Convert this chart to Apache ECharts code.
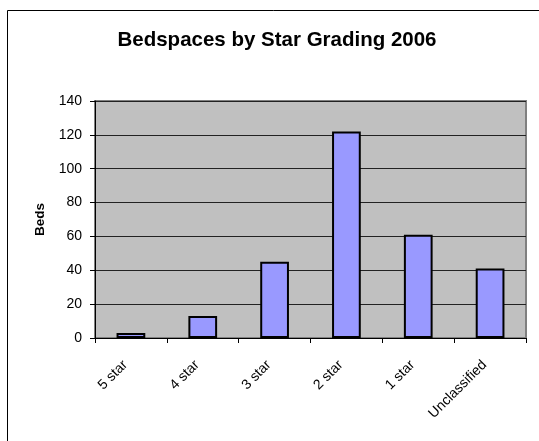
<!DOCTYPE html>
<html>
<head>
<meta charset="utf-8">
<script src="https://cdn.jsdelivr.net/npm/echarts@6/dist/echarts.min.js"></script>
<style>
  html, body { margin: 0; padding: 0; background: #fff; }
  #chart { width: 539px; height: 441px; }
</style>
</head>
<body>
<div id="chart"></div>
<script>
// Bed counts per hotel grading
const categories = ['5 star', '4 star', '3 star', '2 star', '1 star', 'Unclassified'];
const beds = [3, 13, 45, 122, 61, 41];
const yTicks = { min: 0, max: 140, interval: 20 };

const chart = echarts.init(document.getElementById('chart'), null, { renderer: 'canvas' });
const FONT = '"Liberation Sans", Arial, sans-serif';

chart.setOption({
  animation: false,
  backgroundColor: '#fff',
  title: {
    text: 'Bedspaces by Star Grading 2006',
    left: 272,
    textAlign: 'center',
    top: 25,
    textStyle: { fontFamily: FONT, fontSize: 20.5, fontWeight: 'bold', color: '#000' }
  },
  graphic: [{
    type: 'rect',
    shape: { x: 7.5, y: 10.5, width: 700, height: 600 },
    style: { fill: 'none', stroke: '#000', lineWidth: 1 },
    silent: true,
    z: -10
  }],
  grid: {
    left: 95, right: 13, top: 101, bottom: 103,
    show: true,
    backgroundColor: '#c0c0c0',
    borderColor: '#808080',
    borderWidth: 2
  },
  xAxis: {
    type: 'category',
    data: categories,
    axisLine: { lineStyle: { color: '#000', width: 1 } },
    axisTick: { show: true, length: 5, lineStyle: { color: '#000' } },
    axisLabel: {
      rotate: 45,
      margin: 19,
      padding: [0, 8, 0, 0],
      fontFamily: FONT,
      fontSize: 14,
      color: '#000',
      interval: 0
    }
  },
  yAxis: {
    type: 'value',
    min: yTicks.min,
    max: yTicks.max,
    interval: yTicks.interval,
    name: 'Beds',
    nameLocation: 'middle',
    nameGap: 48,
    nameRotate: 90,
    nameTextStyle: { fontFamily: FONT, fontSize: 13.5, fontWeight: 'bold', color: '#000' },
    axisLine: { show: true, lineStyle: { color: '#000', width: 1 } },
    axisTick: { show: true, length: 5, lineStyle: { color: '#000' } },
    axisLabel: { margin: 13, fontFamily: FONT, fontSize: 14, color: '#000' },
    splitLine: { show: true, lineStyle: { color: '#222', width: 1 } }
  },
  series: [{
    type: 'bar',
    data: beds,
    barWidth: '40%',
    itemStyle: { color: '#9999ff', borderColor: '#000', borderWidth: 2 }
  }]
});
</script>
</body>
</html>
